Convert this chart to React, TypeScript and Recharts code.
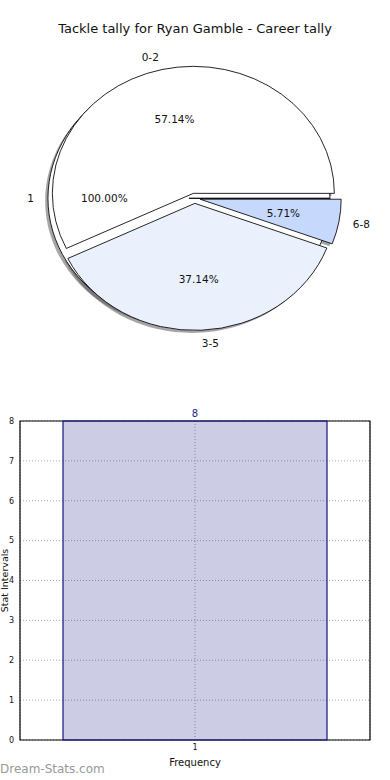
import { PieChart, Pie, Cell, BarChart, Bar, XAxis, YAxis, CartesianGrid, LabelList, ReferenceArea } from "recharts";

// pie: tackles per game, grouped
const tallyLabels = ["0-2", "3-5", "6-8"];
const tallyCounts = [20, 13, 2];
// second pie drawn underneath (single group)
const wholeLabels = ["1"];
const wholeCounts = [1];

// bar: stat intervals
const intervalCategories = ["1"];
const intervalValues = [8];
const yTicks = [0, 1, 2, 3, 4, 5, 6, 7, 8];

const tallyColors = ["#ffffff", "#eaf1fd", "#c6d9fd"];
const FONT = "'DejaVu Sans', sans-serif";

const CX = 194.6;
const CY = 198.3;
const R = 141;
const K = 127 / 141; // squash, pie is drawn as an ellipse
const EXPLODE = 0.04;
const SHADOW = 2.8;

const tallyData = tallyLabels.map((name, i) => ({ name, value: tallyCounts[i] }));
const wholeData = wholeLabels.map((name, i) => ({ name, value: wholeCounts[i] }));
const barData = intervalCategories.map((name, i) => ({ name, value: intervalValues[i] }));

function midAngles(values: number[]) {
  const total = values.reduce((a, b) => a + b, 0);
  let cum = 0;
  return values.map(v => {
    const m = ((cum + v / 2) / total) * 360;
    cum += v;
    return m;
  });
}

function explodeOffset(mid: number) {
  const rad = (mid * Math.PI) / 180;
  return { dx: EXPLODE * R * Math.cos(rad), dy: -EXPLODE * R * Math.sin(rad) };
}

function slicePie(key: string, data: { name: string; value: number }[], idx: number, fill: string, mid: number, shadow: boolean) {
  const { dx, dy } = explodeOffset(mid);
  const sx = shadow ? -SHADOW : 0;
  const sy = shadow ? SHADOW : 0;
  return (
    <Pie
      key={key}
      data={data}
      dataKey="value"
      nameKey="name"
      cx={CX + dx + sx}
      cy={CY + dy + sy}
      innerRadius={0}
      outerRadius={R}
      startAngle={0}
      endAngle={360}
      isAnimationActive={false}
      labelLine={false}
      label={false}
    >
      {data.map((_, i) => (
        <Cell
          key={i}
          fill={i === idx ? (shadow ? "#4d4d4d" : fill) : "none"}
          fillOpacity={shadow ? 0.5 : 1}
          stroke={i === idx && !shadow ? "#000" : "none"}
          strokeWidth={0.9}
        />
      ))}
    </Pie>
  );
}

const renderLabel = (props: any) => {
  const { midAngle, percent, name } = props;
  const rad = (midAngle * Math.PI) / 180;
  const c = Math.cos(rad);
  const s = Math.sin(rad);
  const ox = CX + EXPLODE * R * c;
  const oy = CY - EXPLODE * R * s * K;
  return (
    <g>
      <text x={ox + 1.1 * R * c} y={oy - 1.1 * R * s * K} textAnchor={c > 0 ? "start" : "end"}
        dominantBaseline="central" fontSize={10.5} fill="#111" fontFamily={FONT}>
        {name}
      </text>
      <text x={ox + 0.6 * R * c} y={oy - 0.6 * R * s * K} textAnchor="middle"
        dominantBaseline="central" fontSize={10.5} fill="#111" fontFamily={FONT}>
        {(percent * 100).toFixed(2)}%
      </text>
    </g>
  );
};

export default function App() {
  const tallyMids = midAngles(tallyCounts);
  const wholeMids = midAngles(wholeCounts);

  return (
    <div style={{ position: "absolute", left: 0, top: 0, width: 390, height: 780, background: "#fff", fontFamily: FONT, overflow: "hidden" }}>
      <div style={{ position: "absolute", left: 0, top: 21, width: 390, textAlign: "center", fontSize: 13, color: "#111" }}>
        Tackle tally for Ryan Gamble - Career tally
      </div>

      {/* sectors, squashed into an ellipse */}
      <div style={{ position: "absolute", left: 0, top: 0, transform: `scaleY(${K})`, transformOrigin: `${CX}px ${CY}px` }}>
        <PieChart width={390} height={360} margin={{ top: 0, right: 0, bottom: 0, left: 0 }}>
          {wholeMids.map((m, i) => slicePie("ws" + i, wholeData, i, "#fff", m, true))}
          {tallyMids.map((m, i) => slicePie("ts" + i, tallyData, i, tallyColors[i], m, true))}
          {wholeMids.map((m, i) => slicePie("w" + i, wholeData, i, "#fff", m, false))}
          {tallyMids.map((m, i) => slicePie("t" + i, tallyData, i, tallyColors[i], m, false))}
        </PieChart>
      </div>

      {/* labels, unsquashed */}
      <div style={{ position: "absolute", left: 0, top: 0 }}>
        <PieChart width={390} height={360} margin={{ top: 0, right: 0, bottom: 0, left: 0 }}>
          <Pie data={wholeData} dataKey="value" nameKey="name" cx={CX} cy={CY} outerRadius={R}
            fill="none" stroke="none" isAnimationActive={false} labelLine={false} label={renderLabel} />
          <Pie data={tallyData} dataKey="value" nameKey="name" cx={CX} cy={CY} outerRadius={R}
            fill="none" stroke="none" isAnimationActive={false} labelLine={false} label={renderLabel} />
        </PieChart>
      </div>

      <div style={{ position: "absolute", left: 0, top: 400 }}>
        <BarChart width={390} height={372} data={barData} margin={{ top: 21, right: 20, bottom: 0, left: 0 }}>
          <CartesianGrid stroke="#aaa" strokeDasharray="1 2" />
          <XAxis
            dataKey="name"
            axisLine={false}
            tickLine={false}
            tickSize={0}
            tickMargin={4}
            height={32}
            interval={0}
            tick={{ fontSize: 8, fill: "#111" }}
            label={{ value: "Frequency", position: "insideBottom", offset: 6, fontSize: 10, fill: "#111" }}
          />
          <YAxis
            domain={[0, 8]}
            ticks={yTicks}
            axisLine={false}
            tickLine={false}
            tickSize={0}
            tickMargin={6}
            width={20}
            tick={{ fontSize: 8, fill: "#111" }}
            label={{ value: "Stat Intervals", angle: -90, position: "insideLeft", offset: 5, fontSize: 9.5, fill: "#111", style: { textAnchor: "middle" } }}
          />
          <Bar dataKey="value" fill="#000078" fillOpacity={0.2} stroke="#141480" strokeWidth={1.2} barSize={264} isAnimationActive={false}>
            <LabelList dataKey="value" position="top" offset={4} fill="#1c1c8c" fontSize={10} />
          </Bar>
          <ReferenceArea y1={0} y2={8} fill="none" fillOpacity={0} stroke="#000" strokeWidth={1.2} />
        </BarChart>
      </div>

      <div style={{ position: "absolute", left: 0, top: 762, fontSize: 12, color: "#999" }}>
        Dream-Stats.com
      </div>
    </div>
  );
}
